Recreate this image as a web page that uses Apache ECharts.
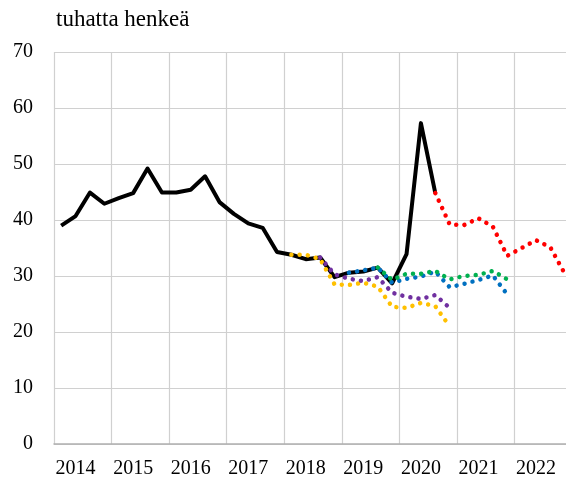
<!DOCTYPE html>
<html>
<head>
<meta charset="utf-8">
<script src="https://cdn.jsdelivr.net/npm/echarts@6/dist/echarts.min.js"></script>
<style>
  html, body { margin: 0; padding: 0; background: #fff; }
  #chart { width: 566px; height: 481px; }
</style>
</head>
<body>
<div id="chart"></div>
<script>
const years = ['2014', '2015', '2016', '2017', '2018', '2019', '2020', '2021', '2022'];
const quarters = years.flatMap(y => ['Q1', 'Q2', 'Q3', 'Q4'].map(q => y + q));
const yTicks = { min: 0, max: 70, step: 10 };

// toteutunut, 2014Q1 - 2020Q3
const actual = [39.0, 40.7, 44.9, 42.9, 43.9, 44.8, 49.2, 44.9,
  44.9, 45.4, 47.8, 43.2, 41.1, 39.4, 38.6, 34.3,
  33.8, 33.0, 33.3, 29.8, 30.6, 30.8, 31.5, 28.7,
  33.9, 57.3, 44.8];

// ennusteet, alkuneljännes + arvot
const yellowStart = '2018Q1';
const yellow = [33.8, 33.8, 33.0, 28.5, 28.4, 28.8, 28.1, 24.5, 24.3, 25.2, 24.6, 21.0];
const purpleStart = '2018Q3';
const purple = [33.3, 30.3, 29.5, 29.1, 29.8, 27.0, 26.3, 25.9, 26.6, 24.3];
const blueStart = '2019Q1';
const blue = [30.6, 31.0, 31.5, 28.8, 29.5, 29.9, 30.8, 28.0, 28.6, 29.3, 30.1, 26.7];
const greenStart = '2019Q3';
const green = [31.5, 29.3, 30.4, 30.4, 30.9, 29.4, 30.0, 30.2, 30.9, 29.4];
const redStart = '2020Q3';
const red = [44.8, 39.2, 39.1, 40.3, 38.8, 33.6, 35.0, 36.4, 35.1, 30.4];

function place(start, values) {
  const out = quarters.map(() => null);
  const i0 = quarters.indexOf(start);
  values.forEach((v, i) => { out[i0 + i] = v; });
  return out;
}

function dotted(name, color, start, values) {
  return {
    name: name,
    type: 'line',
    data: place(start, values),
    symbol: 'none',
    connectNulls: false,
    lineStyle: { color: color, width: 4.5, type: [0.01, 8.2], cap: 'round', join: 'round' },
    animation: false
  };
}

const myChart = echarts.init(document.getElementById('chart'), null, { renderer: 'canvas' });
const font = '"Liberation Serif", "Times New Roman", serif';

const option = {
  animation: false,
  title: {
    text: 'tuhatta henkeä',
    left: 51,
    top: 3,
    textStyle: { fontFamily: font, fontSize: 23, fontWeight: 'normal', color: '#000' }
  },
  // kuva-ala jatkuu hieman oikean reunan yli
  grid: { left: 54, top: 52, width: 518, height: 392, outerBoundsMode: 'none' },
  xAxis: {
    type: 'category',
    data: quarters,
    boundaryGap: true,
    axisLine: { show: true, lineStyle: { color: '#b0b0b0', width: 1.5 } },
    axisTick: { show: false },
    axisLabel: {
      interval: (i) => i % 4 === 1,
      formatter: (v) => v.slice(0, 4),
      fontFamily: font, fontSize: 20, color: '#000', margin: 15
    },
    splitLine: {
      show: true,
      interval: (i) => i % 4 === 0,
      lineStyle: { color: '#d0d0d0', width: 1.2 }
    }
  },
  yAxis: {
    type: 'value',
    min: yTicks.min,
    max: yTicks.max,
    interval: yTicks.step,
    axisLine: { show: false },
    axisTick: { show: false },
    axisLabel: { fontFamily: font, fontSize: 20, color: '#000', margin: 21 },
    splitLine: { lineStyle: { color: '#d0d0d0', width: 1.2 } }
  },
  series: [
    {
      name: 'toteutunut',
      type: 'line',
      data: actual,
      symbol: 'none',
      lineStyle: { color: '#000', width: 4, join: 'round' },
      animation: false
    },
    dotted('ennuste 1', '#FFC000', yellowStart, yellow),
    dotted('ennuste 2', '#7030A0', purpleStart, purple),
    dotted('ennuste 3', '#0070C0', blueStart, blue),
    dotted('ennuste 4', '#00B050', greenStart, green),
    dotted('ennuste 5', '#FF0000', redStart, red)
  ]
};

myChart.setOption(option);
window.addEventListener('resize', () => {
  myChart.resize();
});
</script>
</body>
</html>
